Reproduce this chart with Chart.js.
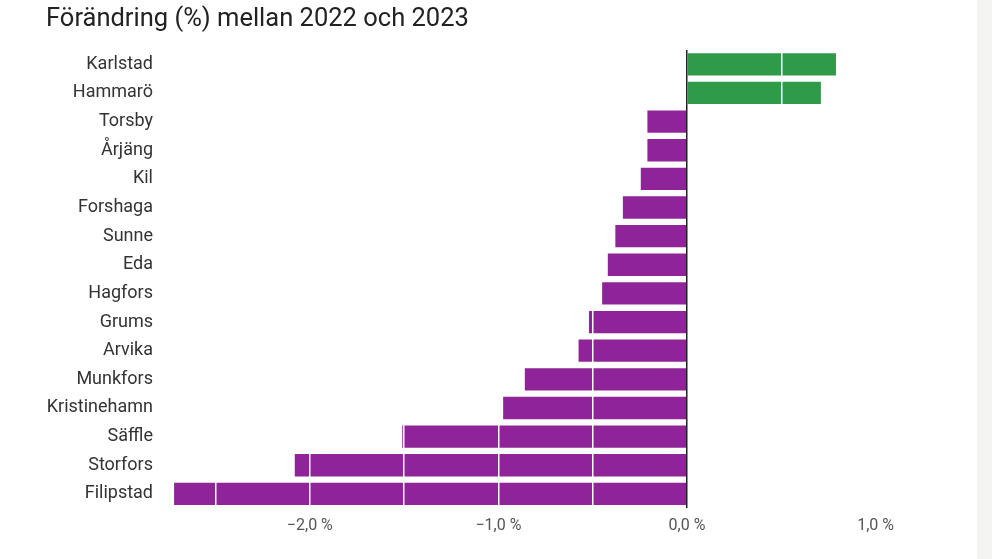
<!DOCTYPE html>
<html>
<head>
<meta charset="utf-8">
<script src="https://cdn.jsdelivr.net/npm/chart.js@4/dist/chart.umd.min.js"></script>
<style>
  html, body { margin: 0; padding: 0; background: #ffffff; }
  #wrap { position: absolute; left: 0; top: 0; width: 977px; height: 559px; background: #ffffff; }
  #strip { position: absolute; left: 977px; top: 0; width: 15px; height: 559px; background: #f4f4f3; }
</style>
</head>
<body>
<div id="wrap"><canvas id="c"></canvas></div>
<div id="strip"></div>
<script>
const titleText = "Förändring (%) mellan 2022 och 2023";
const municipalities = ["Karlstad","Hammarö","Torsby","Årjäng","Kil","Forshaga","Sunne","Eda","Hagfors","Grums","Arvika","Munkfors","Kristinehamn","Säffle","Storfors","Filipstad"];
const changePct = [0.79, 0.71, -0.21, -0.21, -0.245, -0.34, -0.38, -0.42, -0.45, -0.52, -0.575, -0.86, -0.975, -1.51, -2.08, -2.72];
const gridValues = [-2.5, -2.0, -1.5, -1.0, -0.5, 0, 0.5, 1.0];
const labeledTicks = [-2.0, -1.0, 0, 1.0];
const axisMin = -2.8;
const axisMax = 1.4;

const GREEN = "#2f9a48";
const PURPLE = "#8f2499";

function fmt(v) {
  const s = Math.abs(v).toFixed(1).replace(".", ",") + " %";
  return (v < 0 ? "\u2212" : "") + s;
}

new Chart(document.getElementById("c"), {
  type: "bar",
  data: {
    labels: municipalities,
    datasets: [{
      data: changePct,
      backgroundColor: changePct.map(v => v >= 0 ? GREEN : PURPLE),
      borderWidth: 0,
      barPercentage: 0.78,
      categoryPercentage: 1.0
    }]
  },
  options: {
    indexAxis: "y",
    responsive: true,
    maintainAspectRatio: false,
    animation: false,
    devicePixelRatio: 1,
    layout: { padding: { left: 46, right: 26, top: 4, bottom: 15.6 } },
    plugins: {
      legend: { display: false },
      tooltip: { enabled: false },
      title: {
        display: true,
        text: titleText,
        align: "start",
        color: "#222222",
        font: { family: "Roboto", size: 25.5, weight: "normal", lineHeight: 1.2 },
        padding: { top: 0, bottom: 15.4 }
      }
    },
    scales: {
      x: {
        type: "linear",
        min: axisMin,
        max: axisMax,
        border: { display: false },
        afterBuildTicks: (scale) => { scale.ticks = gridValues.map(v => ({ value: v })); },
        grid: {
          z: 1,
          drawTicks: false,
          color: (ctx) => ctx.tick && ctx.tick.value === 0 ? "#222222" : "#ffffff",
          lineWidth: 1.5
        },
        ticks: {
          autoSkip: false,
          maxRotation: 0,
          padding: 8,
          color: "#555555",
          font: { family: "Roboto", size: 16 },
          callback: (v) => labeledTicks.includes(v) ? fmt(v) : ""
        }
      },
      y: {
        border: { display: false },
        grid: { display: false, drawTicks: false },
        afterFit: (scale) => { scale.width = 113; },
        ticks: {
          padding: 6,
          color: "#333333",
          font: { family: "Roboto", size: 18 }
        }
      }
    }
  }
});
</script>
</body>
</html>
